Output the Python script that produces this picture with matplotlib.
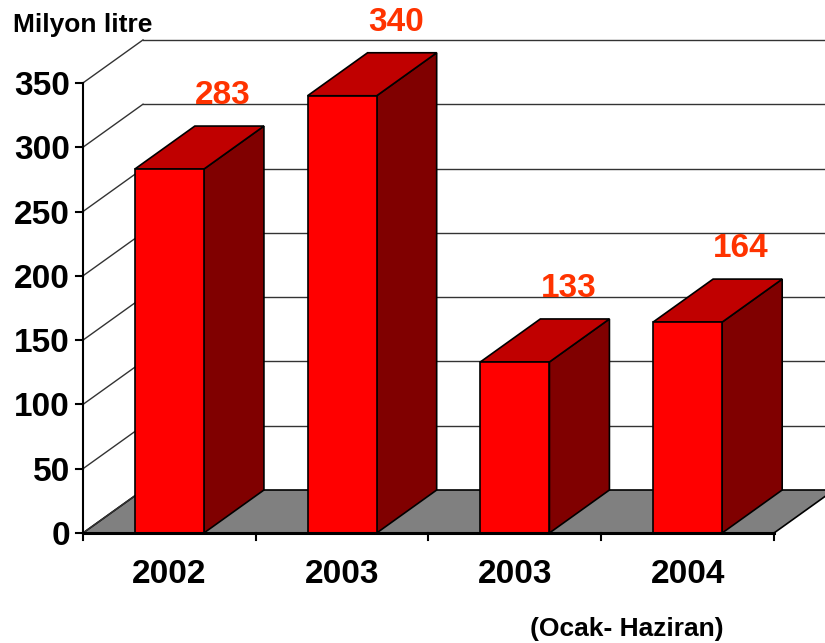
import matplotlib
matplotlib.use("Agg")
import matplotlib.pyplot as plt
from matplotlib.patches import Polygon

categories = ["2002", "2003", "2003", "2004"]
values = [283, 340, 133, 164]
value_labels = ["283", "340", "133", "164"]
y_ticks = [0, 50, 100, 150, 200, 250, 300, 350]
y_label = "Milyon litre"
note = "(Ocak- Haziran)"

FONT = "Liberation Sans"
W, H = 825, 643
fig = plt.figure(figsize=(W / 100, H / 100), dpi=100)
ax = fig.add_axes([0, 0, 1, 1])
px_per_cat = 172.75
px_per_unit = 1.286
x0_px, y0_px = 83, 533
ax.set_xlim(-0.5 - x0_px / px_per_cat, -0.5 + (W - x0_px) / px_per_cat)
ax.set_ylim(-(H - y0_px) / px_per_unit, y0_px / px_per_unit)
ax.axis("off")

ddx = 60 / px_per_cat
ddy = 43 / px_per_unit
n = len(categories)
xl, xr = -0.5, n - 0.5
ymax = y_ticks[-1]
bw = 0.4
grid_c = "#333333"

# floor
ax.add_patch(Polygon([(xl, 0), (xr, 0), (xr + ddx, ddy), (xl + ddx, ddy)],
                     closed=True, facecolor="#808080", edgecolor="black", lw=1.2, zorder=1))

# gridlines (left wall diagonals + back wall horizontals)
for t in y_ticks:
    ax.plot([xl, xl + ddx], [t, t + ddy], color=grid_c, lw=1.0, zorder=2)
    if t > 0:
        ax.plot([xl + ddx, xr + ddx], [t + ddy, t + ddy], color=grid_c, lw=1.0, zorder=0.5)

# y axis
ax.plot([xl, xl], [0, ymax], color="black", lw=1.5, zorder=3)
for t in y_ticks:
    ax.plot([xl - 7 / px_per_cat, xl], [t, t], color="black", lw=1.5, zorder=3)
    ax.text(xl - 13 / px_per_cat, t, str(t), ha="right", va="center_baseline",
            fontsize=24, fontweight="bold", family=FONT, color="black")

# x axis
ax.plot([xl, xr], [0, 0], color="black", lw=2.2, zorder=6)
for i in range(n + 1):
    ax.plot([i - 0.5, i - 0.5], [0, -7 / px_per_unit], color="black", lw=1.5, zorder=6)

# bars
for i, v in enumerate(values):
    l, r = i - bw / 2, i + bw / 2
    ax.add_patch(Polygon([(r, 0), (r + ddx, ddy), (r + ddx, v + ddy), (r, v)],
                         closed=True, facecolor="#800000", edgecolor="black", lw=1.2, zorder=4))
    ax.add_patch(Polygon([(l, v), (r, v), (r + ddx, v + ddy), (l + ddx, v + ddy)],
                         closed=True, facecolor="#C00000", edgecolor="black", lw=1.2, zorder=4))
    ax.add_patch(Polygon([(l, 0), (r, 0), (r, v), (l, v)],
                         closed=True, facecolor="#FF0000", edgecolor="black", lw=1.2, zorder=5))
    ax.text(i + 0.31, v + 60, value_labels[i], ha="center", va="center_baseline",
            fontsize=24, fontweight="bold", family=FONT, color="#FF3300")
    ax.text(i, -29.5, categories[i], ha="center", va="center_baseline",
            fontsize=24, fontweight="bold", family=FONT, color="black")

ax.text(2.649, -73, note, ha="center", va="center_baseline",
        fontsize=19, fontweight="bold", family=FONT, color="black")
fig.text(13 / W, 1 - 32 / H, y_label, ha="left", va="baseline",
         fontsize=19, fontweight="bold", family=FONT, color="black")

fig.savefig("out.png", dpi=100)
